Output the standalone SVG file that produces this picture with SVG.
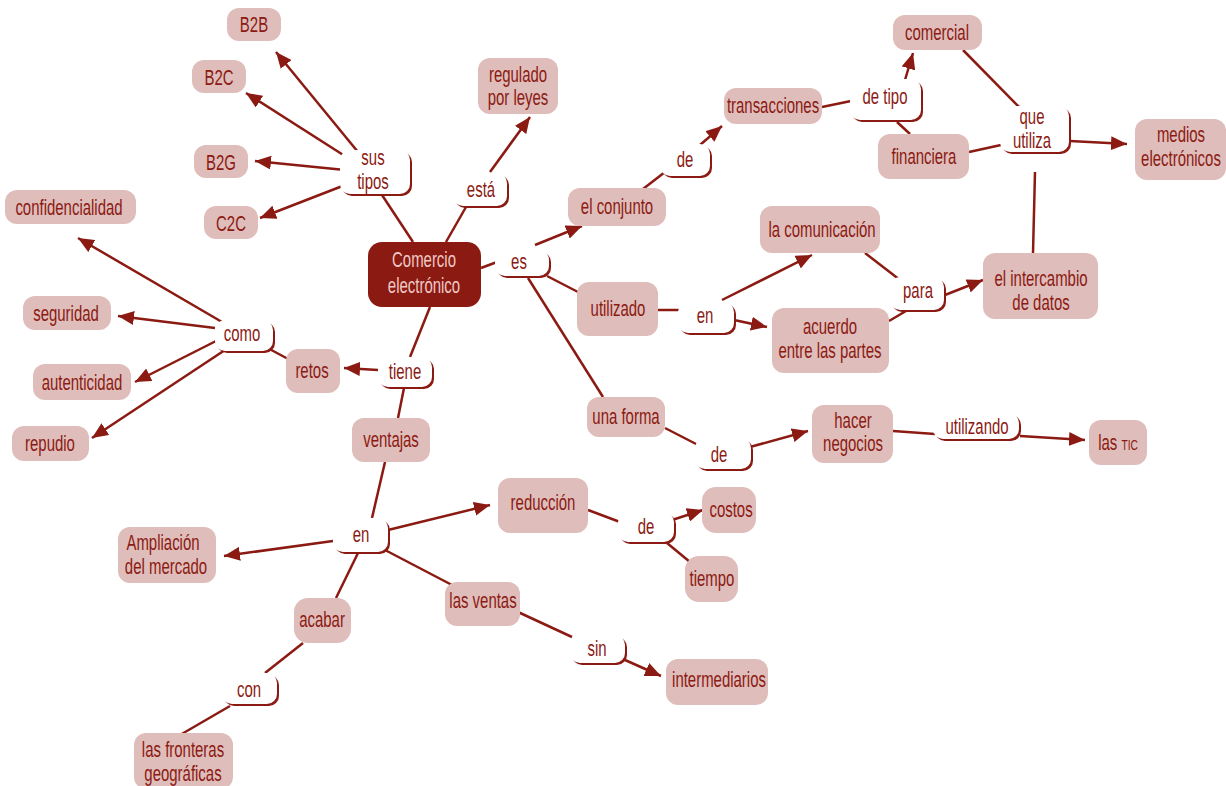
<svg xmlns="http://www.w3.org/2000/svg" width="1226" height="786" viewBox="0 0 1226 786">
<defs>
<marker id="ah" markerUnits="userSpaceOnUse" markerWidth="18" markerHeight="14" refX="16" refY="7" orient="auto">
<path d="M0,0 L16,7 L0,14 Z" fill="#8b1a12"/>
</marker>
</defs>
<style>
text{font-family:"Liberation Sans",Arial,sans-serif;font-size:22px;fill:#8b1a12;text-anchor:middle}
.n{fill:#dfbdbb}
.c{fill:#8b1a12}
.ct{fill:#efc9c5}
.ls{fill:#8b1a12}
.l{fill:#ffffff}
.e{stroke:#8b1a12;stroke-width:2.5;fill:none}
.a{marker-end:url(#ah)}
.sm{font-size:15px}
</style>
<rect width="1226" height="786" fill="#ffffff"/>
<g id="connectors">
<line class="e a" x1="358" y1="152" x2="276" y2="52"/>
<line class="e a" x1="348" y1="158" x2="246" y2="93"/>
<line class="e a" x1="345" y1="170" x2="255" y2="161"/>
<line class="e a" x1="345" y1="185" x2="260" y2="218"/>
<line class="e" x1="382" y1="195" x2="413" y2="242"/>
<line class="e" x1="446" y1="242" x2="466" y2="207"/>
<line class="e a" x1="490" y1="172" x2="530" y2="117"/>
<line class="e" x1="481" y1="268" x2="497" y2="262"/>
<line class="e a" x1="535" y1="245" x2="582" y2="226"/>
<line class="e" x1="547" y1="276" x2="578" y2="292"/>
<line class="e" x1="528" y1="278" x2="603" y2="397"/>
<line class="e" x1="643" y1="189" x2="665" y2="172"/>
<line class="e a" x1="700" y1="145" x2="722" y2="126"/>
<line class="e" x1="822" y1="107" x2="851" y2="101"/>
<line class="e a" x1="905" y1="80" x2="913" y2="53"/>
<line class="e" x1="897" y1="122" x2="910" y2="134"/>
<line class="e" x1="963" y1="50" x2="1020" y2="108"/>
<line class="e" x1="969" y1="152" x2="1001" y2="145"/>
<line class="e a" x1="1070" y1="141" x2="1127" y2="144"/>
<line class="e" x1="1035" y1="172" x2="1033" y2="253"/>
<line class="e" x1="658" y1="310" x2="684" y2="310"/>
<line class="e a" x1="722" y1="300" x2="812" y2="255"/>
<line class="e a" x1="734" y1="320" x2="767" y2="327"/>
<line class="e" x1="865" y1="253" x2="900" y2="280"/>
<line class="e" x1="889" y1="321" x2="906" y2="311"/>
<line class="e a" x1="945" y1="295" x2="983" y2="280"/>
<line class="e" x1="665" y1="428" x2="698" y2="445"/>
<line class="e a" x1="750" y1="447" x2="808" y2="431"/>
<line class="e" x1="893" y1="431" x2="935" y2="434"/>
<line class="e a" x1="1020" y1="436" x2="1085" y2="440"/>
<line class="e" x1="430" y1="307" x2="410" y2="357"/>
<line class="e a" x1="378" y1="370" x2="344" y2="368"/>
<line class="e" x1="262" y1="345" x2="290" y2="360"/>
<line class="e a" x1="222" y1="322" x2="78" y2="238"/>
<line class="e a" x1="215" y1="328" x2="118" y2="316"/>
<line class="e a" x1="218" y1="340" x2="135" y2="382"/>
<line class="e a" x1="225" y1="350" x2="92" y2="438"/>
<line class="e" x1="404" y1="388" x2="398" y2="418"/>
<line class="e" x1="385" y1="462" x2="372" y2="518"/>
<line class="e a" x1="388" y1="530" x2="490" y2="505"/>
<line class="e" x1="588" y1="510" x2="620" y2="522"/>
<line class="e a" x1="672" y1="520" x2="703" y2="510"/>
<line class="e" x1="667" y1="543" x2="690" y2="562"/>
<line class="e a" x1="333" y1="541" x2="224" y2="556"/>
<line class="e" x1="385" y1="550" x2="452" y2="585"/>
<line class="e" x1="518" y1="612" x2="572" y2="637"/>
<line class="e a" x1="625" y1="660" x2="661" y2="676"/>
<line class="e" x1="358" y1="553" x2="336" y2="598"/>
<line class="e" x1="303" y1="643" x2="265" y2="673"/>
<line class="e" x1="230" y1="706" x2="180" y2="735"/>
</g>
<g id="n-b2b"><rect class="n" x="227" y="8" width="54" height="33" rx="12"/><text transform="translate(254,32) scale(.68,1)">B2B</text></g>
<g id="n-b2c"><rect class="n" x="192" y="60" width="54" height="33" rx="12"/><text transform="translate(219,85) scale(.68,1)">B2C</text></g>
<g id="n-b2g"><rect class="n" x="194" y="145" width="54" height="33" rx="12"/><text transform="translate(221,170) scale(.68,1)">B2G</text></g>
<g id="n-c2c"><rect class="n" x="204" y="206" width="54" height="33" rx="12"/><text transform="translate(231,231) scale(.68,1)">C2C</text></g>
<g id="l-sustipos"><rect class="ls" x="342" y="152" width="70" height="44" rx="10"/><rect class="l" x="340" y="150" width="70" height="44" rx="10"/><text transform="translate(373,165) scale(.68,1)">sus</text><text transform="translate(373,189) scale(.68,1)">tipos</text></g>
<g id="n-regulado"><rect class="n" x="478" y="58" width="80" height="56" rx="12"/><text transform="translate(518,82) scale(.68,1)">regulado</text><text transform="translate(518,105) scale(.68,1)">por leyes</text></g>
<g id="l-esta"><rect class="ls" x="455" y="175" width="54" height="33" rx="10"/><rect class="l" x="453" y="173" width="54" height="33" rx="10"/><text transform="translate(481,197) scale(.68,1)">está</text></g>
<g id="n-comercio"><rect class="c" x="368" y="242" width="113" height="65" rx="14"/><text class="ct" transform="translate(424,267) scale(.68,1)">Comercio</text><text class="ct" transform="translate(424,293) scale(.68,1)">electrónico</text></g>
<g id="l-es"><rect class="ls" x="497" y="252" width="54" height="26" rx="10"/><rect class="l" x="495" y="250" width="54" height="26" rx="10"/><text transform="translate(519,269) scale(.68,1)">es</text></g>
<g id="n-conjunto"><rect class="n" x="568" y="188" width="98" height="38" rx="12"/><text transform="translate(617,214) scale(.68,1)">el conjunto</text></g>
<g id="l-de1"><rect class="ls" x="662" y="146" width="50" height="32" rx="10"/><rect class="l" x="660" y="144" width="50" height="32" rx="10"/><text transform="translate(685,167) scale(.68,1)">de</text></g>
<g id="n-transacciones"><rect class="n" x="724" y="88" width="98" height="36" rx="12"/><text transform="translate(773,113) scale(.68,1)">transacciones</text></g>
<g id="l-detipo"><rect class="ls" x="852" y="81" width="71" height="41" rx="10"/><rect class="l" x="850" y="79" width="71" height="41" rx="10"/><text transform="translate(885,104) scale(.68,1)">de tipo</text></g>
<g id="n-comercial"><rect class="n" x="893" y="15" width="89" height="35" rx="12"/><text transform="translate(937,40) scale(.68,1)">comercial</text></g>
<g id="n-financiera"><rect class="n" x="878" y="134" width="91" height="45" rx="12"/><text transform="translate(924,164) scale(.68,1)">financiera</text></g>
<g id="l-queutiliza"><rect class="ls" x="1002" y="108" width="69" height="46" rx="10"/><rect class="l" x="1000" y="106" width="69" height="46" rx="10"/><text transform="translate(1032,124) scale(.68,1)">que</text><text transform="translate(1032,148) scale(.68,1)">utiliza</text></g>
<g id="n-medios"><rect class="n" x="1135" y="119" width="91" height="61" rx="12"/><text transform="translate(1181,142) scale(.68,1)">medios</text><text transform="translate(1181,166) scale(.68,1)">electrónicos</text></g>
<g id="n-comunicacion"><rect class="n" x="760" y="206" width="120" height="47" rx="12"/><text transform="translate(822,237) scale(.68,1)">la  comunicación</text></g>
<g id="n-utilizado"><rect class="n" x="577" y="282" width="81" height="54" rx="12"/><text transform="translate(618,316) scale(.68,1)">utilizado</text></g>
<g id="l-en1"><rect class="ls" x="680" y="304" width="56" height="31" rx="10"/><rect class="l" x="678" y="302" width="56" height="31" rx="10"/><text transform="translate(705,323) scale(.68,1)">en</text></g>
<g id="n-acuerdo"><rect class="n" x="772" y="308" width="117" height="65" rx="12"/><text transform="translate(830,334) scale(.68,1)">acuerdo</text><text transform="translate(830,358) scale(.68,1)">entre las partes</text></g>
<g id="l-para"><rect class="ls" x="892" y="279" width="54" height="33" rx="10"/><rect class="l" x="890" y="277" width="54" height="33" rx="10"/><text transform="translate(918,298) scale(.68,1)">para</text></g>
<g id="n-intercambio"><rect class="n" x="983" y="253" width="115" height="66" rx="12"/><text transform="translate(1041,286) scale(.68,1)">el intercambio</text><text transform="translate(1041,310) scale(.68,1)">de datos</text></g>
<g id="n-unaforma"><rect class="n" x="587" y="397" width="78" height="40" rx="12"/><text transform="translate(626,424) scale(.68,1)">una forma</text></g>
<g id="l-de2"><rect class="ls" x="697" y="440" width="56" height="31" rx="10"/><rect class="l" x="695" y="438" width="56" height="31" rx="10"/><text transform="translate(719,462) scale(.68,1)">de</text></g>
<g id="n-negocios"><rect class="n" x="812" y="405" width="81" height="58" rx="12"/><text transform="translate(853,428) scale(.68,1)">hacer</text><text transform="translate(853,451) scale(.68,1)">negocios</text></g>
<g id="l-utilizando"><rect class="ls" x="935" y="415" width="86" height="26" rx="10"/><rect class="l" x="933" y="413" width="86" height="26" rx="10"/><text transform="translate(977,434) scale(.68,1)">utilizando</text></g>
<g id="n-tic"><rect class="n" x="1089" y="420" width="58" height="45" rx="12"/><text transform="translate(1118,450) scale(.68,1)"><tspan>las </tspan><tspan class="sm">TIC</tspan></text></g>
<g id="n-confidencialidad"><rect class="n" x="5" y="190" width="131" height="34" rx="12"/><text transform="translate(69,215) scale(.68,1)">confidencialidad</text></g>
<g id="n-seguridad"><rect class="n" x="23" y="296" width="88" height="34" rx="12"/><text transform="translate(66,321) scale(.68,1)">seguridad</text></g>
<g id="n-autenticidad"><rect class="n" x="33" y="364" width="98" height="36" rx="12"/><text transform="translate(82,390) scale(.68,1)">autenticidad</text></g>
<g id="n-repudio"><rect class="n" x="12" y="426" width="77" height="35" rx="12"/><text transform="translate(50,451) scale(.68,1)">repudio</text></g>
<g id="l-como"><rect class="ls" x="217" y="322" width="58" height="31" rx="10"/><rect class="l" x="215" y="320" width="58" height="31" rx="10"/><text transform="translate(242,341) scale(.68,1)">como</text></g>
<g id="n-retos"><rect class="n" x="286" y="349" width="54" height="44" rx="12"/><text transform="translate(312,378) scale(.68,1)">retos</text></g>
<g id="l-tiene"><rect class="ls" x="380" y="359" width="54" height="30" rx="10"/><rect class="l" x="378" y="357" width="54" height="30" rx="10"/><text transform="translate(405,379) scale(.68,1)">tiene</text></g>
<g id="n-ventajas"><rect class="n" x="352" y="418" width="78" height="44" rx="12"/><text transform="translate(391,447) scale(.68,1)">ventajas</text></g>
<g id="l-en2"><rect class="ls" x="335" y="520" width="55" height="34" rx="10"/><rect class="l" x="333" y="518" width="55" height="34" rx="10"/><text transform="translate(361,542) scale(.68,1)">en</text></g>
<g id="n-reduccion"><rect class="n" x="498" y="478" width="90" height="55" rx="12"/><text transform="translate(543,510) scale(.68,1)">reducción</text></g>
<g id="l-de3"><rect class="ls" x="620" y="514" width="56" height="30" rx="10"/><rect class="l" x="618" y="512" width="56" height="30" rx="10"/><text transform="translate(646,534) scale(.68,1)">de</text></g>
<g id="n-costos"><rect class="n" x="702" y="487" width="54" height="46" rx="14"/><text transform="translate(731,517) scale(.68,1)">costos</text></g>
<g id="n-tiempo"><rect class="n" x="685" y="556" width="53" height="46" rx="14"/><text transform="translate(712,586) scale(.68,1)">tiempo</text></g>
<g id="n-ampliacion"><rect class="n" x="118" y="527" width="98" height="56" rx="12"/><text transform="translate(163,550) scale(.68,1)">Ampliación</text><text transform="translate(166,574) scale(.68,1)">del mercado</text></g>
<g id="n-lasventas"><rect class="n" x="445" y="582" width="75" height="44" rx="12"/><text transform="translate(483,608) scale(.68,1)">las ventas</text></g>
<g id="l-sin"><rect class="ls" x="572" y="637" width="55" height="28" rx="10"/><rect class="l" x="570" y="635" width="55" height="28" rx="10"/><text transform="translate(597,656) scale(.68,1)">sin</text></g>
<g id="n-intermediarios"><rect class="n" x="666" y="659" width="102" height="46" rx="12"/><text transform="translate(719,687) scale(.68,1)">intermediarios</text></g>
<g id="n-acabar"><rect class="n" x="294" y="598" width="57" height="45" rx="14"/><text transform="translate(322,627) scale(.68,1)">acabar</text></g>
<g id="l-con"><rect class="ls" x="224" y="675" width="55" height="31" rx="10"/><rect class="l" x="222" y="673" width="55" height="31" rx="10"/><text transform="translate(249,697) scale(.68,1)">con</text></g>
<g id="n-fronteras"><rect class="n" x="134" y="733" width="99" height="56" rx="12"/><text transform="translate(183,757) scale(.68,1)">las fronteras</text><text transform="translate(183,781) scale(.68,1)">geográficas</text></g>
</svg>
